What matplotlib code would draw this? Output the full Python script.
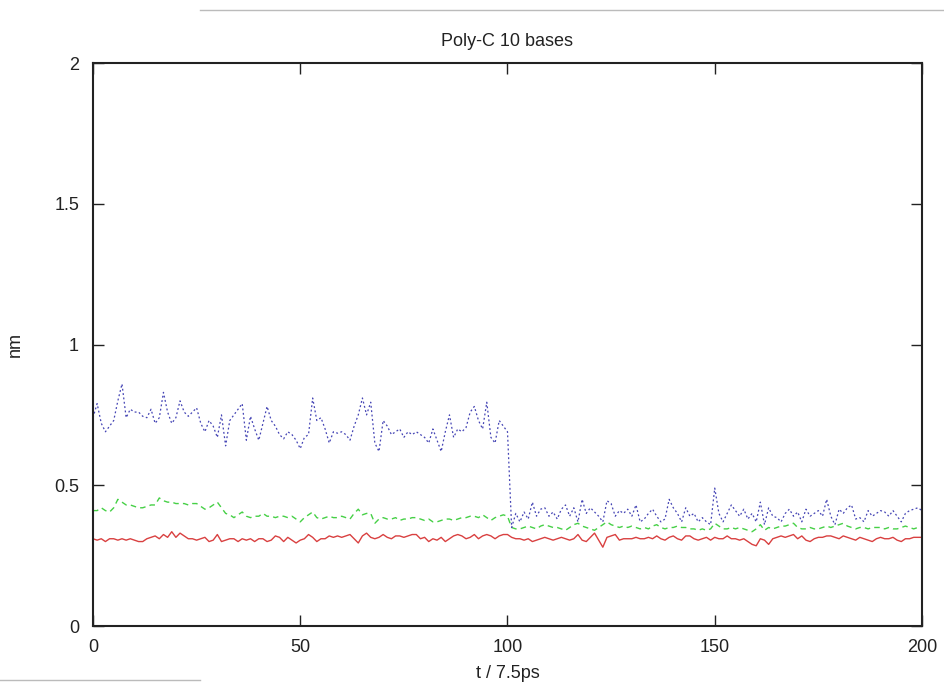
import numpy as np
import matplotlib
matplotlib.use("Agg")
import matplotlib.pyplot as plt
from matplotlib.lines import Line2D

plt.rcParams['font.family'] = ['Liberation Sans', 'DejaVu Sans']

# time axis, t / 7.5ps
t = np.arange(0, 201)

# blue dotted series
blue = [
    0.74, 0.79, 0.72, 0.69, 0.71, 0.73, 0.80, 0.86, 0.74, 0.77,
    0.76, 0.76, 0.745, 0.74, 0.77, 0.72, 0.74, 0.83, 0.76, 0.72,
    0.74, 0.80, 0.76, 0.745, 0.76, 0.775, 0.72, 0.69, 0.73, 0.71,
    0.67, 0.75, 0.64, 0.73, 0.75, 0.77, 0.79, 0.66, 0.745, 0.70,
    0.66, 0.72, 0.78, 0.73, 0.71, 0.68, 0.665, 0.69, 0.68, 0.66,
    0.63, 0.67, 0.68, 0.81, 0.73, 0.74, 0.70, 0.65, 0.69, 0.685,
    0.69, 0.68, 0.66, 0.71, 0.75, 0.81, 0.75, 0.795, 0.65, 0.62,
    0.73, 0.71, 0.68, 0.69, 0.70, 0.67, 0.69, 0.68, 0.69, 0.68,
    0.67, 0.65, 0.70, 0.66, 0.62, 0.69, 0.75, 0.67, 0.70, 0.69,
    0.705, 0.76, 0.78, 0.73, 0.70, 0.795, 0.67, 0.65, 0.73, 0.71,
    0.69,
    0.35, 0.40, 0.37, 0.405, 0.38, 0.44, 0.39, 0.415, 0.42, 0.39,
    0.405, 0.38, 0.415, 0.43, 0.39, 0.42, 0.37, 0.45, 0.40, 0.42,
    0.405, 0.39, 0.37, 0.445, 0.435, 0.39, 0.41, 0.40, 0.415, 0.39,
    0.43, 0.37, 0.38, 0.40, 0.415, 0.39, 0.37, 0.38, 0.45, 0.42,
    0.40, 0.37, 0.42, 0.39, 0.40, 0.37, 0.385, 0.37, 0.36, 0.49,
    0.40, 0.37, 0.40, 0.43, 0.41, 0.39, 0.415, 0.38, 0.40, 0.37,
    0.44, 0.36, 0.42, 0.39, 0.385, 0.37, 0.40, 0.415, 0.39, 0.405,
    0.37, 0.415, 0.39, 0.40, 0.41, 0.39, 0.45, 0.39, 0.36, 0.415,
    0.40, 0.42, 0.43, 0.38, 0.385, 0.37, 0.41, 0.39, 0.40, 0.41,
    0.405, 0.39, 0.41, 0.39, 0.37, 0.40, 0.41, 0.415, 0.42, 0.41,
]

# green dashed series
green = [
    0.41, 0.41, 0.42, 0.41, 0.405, 0.42, 0.45, 0.44, 0.43, 0.43,
    0.425, 0.42, 0.42, 0.425, 0.43, 0.43, 0.455, 0.445, 0.44, 0.44,
    0.435, 0.435, 0.435, 0.43, 0.435, 0.435, 0.425, 0.415, 0.42, 0.43,
    0.44, 0.42, 0.40, 0.395, 0.385, 0.395, 0.405, 0.39, 0.385, 0.39,
    0.39, 0.40, 0.39, 0.39, 0.385, 0.39, 0.39, 0.385, 0.39, 0.38,
    0.37, 0.385, 0.395, 0.405, 0.385, 0.38, 0.385, 0.39, 0.385, 0.385,
    0.39, 0.385, 0.38, 0.40, 0.415, 0.395, 0.40, 0.40, 0.365, 0.38,
    0.385, 0.38, 0.38, 0.385, 0.375, 0.38, 0.38, 0.385, 0.385, 0.38,
    0.375, 0.38, 0.37, 0.37, 0.375, 0.38, 0.38, 0.375, 0.38, 0.385,
    0.385, 0.39, 0.39, 0.385, 0.395, 0.385, 0.375, 0.385, 0.39, 0.395,
    0.39,
    0.35, 0.345, 0.345, 0.35, 0.355, 0.35, 0.345, 0.355, 0.36, 0.355,
    0.35, 0.35, 0.345, 0.34, 0.35, 0.36, 0.365, 0.355, 0.35, 0.345,
    0.34, 0.35, 0.36, 0.37, 0.36, 0.355, 0.35, 0.355, 0.35, 0.355,
    0.35, 0.345, 0.35, 0.345, 0.355, 0.36, 0.35, 0.345, 0.35, 0.35,
    0.355, 0.35, 0.35, 0.345, 0.345, 0.34, 0.345, 0.34, 0.345, 0.365,
    0.355, 0.345, 0.345, 0.35, 0.345, 0.35, 0.345, 0.34, 0.335, 0.345,
    0.36, 0.34, 0.35, 0.345, 0.35, 0.355, 0.355, 0.36, 0.365, 0.35,
    0.345, 0.345, 0.35, 0.345, 0.345, 0.35, 0.355, 0.35, 0.355, 0.36,
    0.365, 0.355, 0.35, 0.345, 0.35, 0.35, 0.345, 0.35, 0.35, 0.35,
    0.345, 0.35, 0.345, 0.345, 0.35, 0.355, 0.35, 0.345, 0.35, 0.35,
]

# red solid series
red = [
    0.31, 0.305, 0.31, 0.30, 0.31, 0.31, 0.305, 0.31, 0.305, 0.31,
    0.305, 0.30, 0.30, 0.31, 0.315, 0.32, 0.31, 0.325, 0.315, 0.335,
    0.315, 0.33, 0.32, 0.31, 0.31, 0.305, 0.31, 0.315, 0.30, 0.305,
    0.325, 0.30, 0.305, 0.31, 0.31, 0.30, 0.31, 0.305, 0.31, 0.30,
    0.31, 0.31, 0.30, 0.305, 0.32, 0.315, 0.30, 0.315, 0.305, 0.295,
    0.305, 0.31, 0.325, 0.315, 0.30, 0.31, 0.31, 0.32, 0.315, 0.32,
    0.315, 0.32, 0.325, 0.31, 0.295, 0.32, 0.33, 0.315, 0.31, 0.315,
    0.325, 0.315, 0.31, 0.32, 0.32, 0.315, 0.32, 0.325, 0.325, 0.31,
    0.315, 0.30, 0.31, 0.305, 0.315, 0.30, 0.31, 0.32, 0.325, 0.32,
    0.31, 0.315, 0.325, 0.31, 0.32, 0.325, 0.32, 0.31, 0.32, 0.325,
    0.325,
    0.315, 0.31, 0.31, 0.305, 0.31, 0.30, 0.305, 0.31, 0.315, 0.31,
    0.305, 0.31, 0.315, 0.31, 0.305, 0.31, 0.325, 0.305, 0.30, 0.315,
    0.33, 0.305, 0.28, 0.315, 0.32, 0.325, 0.305, 0.31, 0.31, 0.31,
    0.315, 0.31, 0.31, 0.315, 0.31, 0.32, 0.31, 0.305, 0.315, 0.32,
    0.31, 0.305, 0.32, 0.32, 0.31, 0.305, 0.31, 0.315, 0.305, 0.315,
    0.31, 0.31, 0.32, 0.31, 0.31, 0.305, 0.31, 0.30, 0.29, 0.285,
    0.31, 0.305, 0.29, 0.31, 0.315, 0.32, 0.315, 0.32, 0.325, 0.31,
    0.32, 0.305, 0.30, 0.31, 0.315, 0.315, 0.32, 0.32, 0.315, 0.31,
    0.32, 0.315, 0.31, 0.305, 0.315, 0.31, 0.305, 0.30, 0.31, 0.315,
    0.31, 0.31, 0.315, 0.305, 0.30, 0.31, 0.31, 0.315, 0.315, 0.315,
]

xticks = [0, 50, 100, 150, 200]
yticks = [0, 0.5, 1, 1.5, 2]
yticklabels = ['0', '0.5', '1', '1.5', '2']

fig = plt.figure(figsize=(9.44, 6.82), dpi=100)
ax = fig.add_axes([0.0985, 0.0821, 0.8782, 0.8255])

ax.plot(t, red, color='#d94040', lw=1.0, ls='-')
ax.plot(t, green, color='#46d046', lw=1.0, ls=(0, (4, 3)))
ax.plot(t, blue, color='#4545b5', lw=0.9, ls=(0, (1.5, 2)))

ax.set_xlim(0, 200)
ax.set_ylim(0, 2)
ax.set_xticks(xticks)
ax.set_yticks(yticks)
ax.set_yticklabels(yticklabels)
ax.tick_params(direction='in', length=8, width=1, top=True, right=True,
               labelsize=13, colors='#222222')
ax.tick_params(axis='y', pad=10)
ax.tick_params(axis='x', pad=9)
for s in ax.spines.values():
    s.set_linewidth(1.5)
    s.set_color('#222222')

ax.set_title('Poly-C 10 bases', fontsize=13, pad=12, color='#222222')
ax.set_xlabel('t / 7.5ps', fontsize=13, labelpad=7, color='#222222')
ax.set_ylabel('nm', fontsize=13, color='#222222')
ax.yaxis.set_label_coords(-0.083, 0.5)

# faint screenshot edges
fig.add_artist(Line2D([200 / 944, 1.0], [1 - 10 / 682, 1 - 10 / 682],
                      color='#bbbbbb', lw=1))
fig.add_artist(Line2D([0, 200 / 944], [1 - 680 / 682, 1 - 680 / 682],
                      color='#bbbbbb', lw=1))

fig.savefig('out.png', dpi=100)
